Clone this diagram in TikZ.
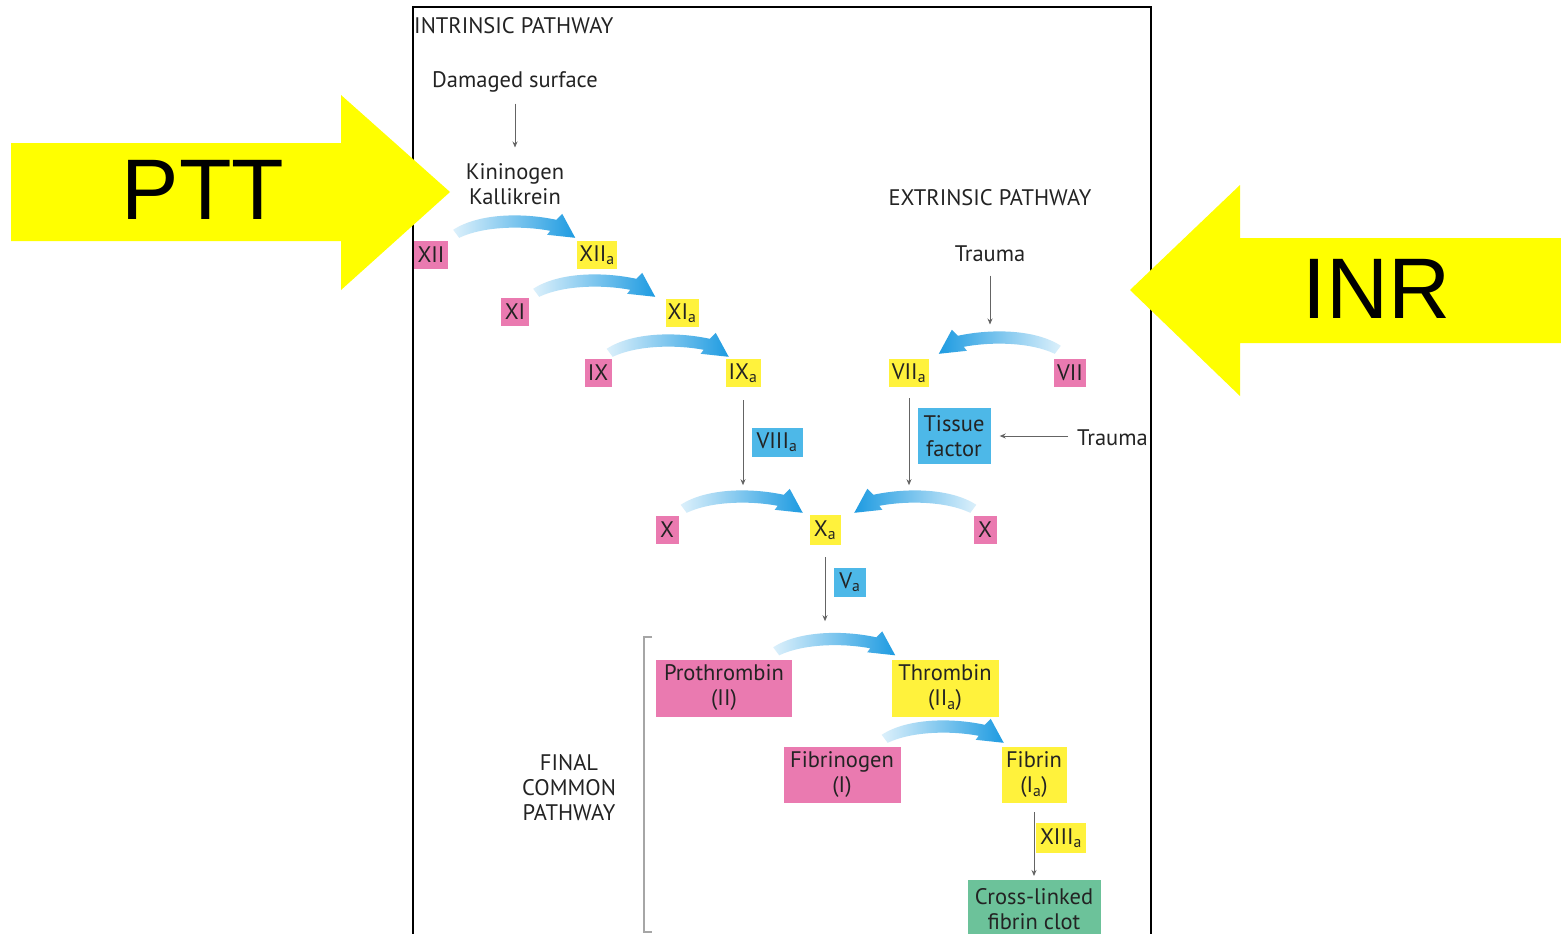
\documentclass[tikz,border=0pt]{standalone}
\usepackage{fontspec}
\setmainfont{PT Sans}
\newfontfamily\arialf{Liberation Sans}
\usetikzlibrary{calc,arrows.meta}
\definecolor{pinkc}{RGB}{234,122,176}
\definecolor{yellowc}{RGB}{255,242,60}
\definecolor{bluec}{RGB}{77,184,232}
\definecolor{greenc}{RGB}{108,194,154}
\definecolor{flowdark}{RGB}{30,155,225}
\definecolor{flowlight}{RGB}{220,240,251}
\definecolor{txt}{RGB}{35,35,35}
\definecolor{bigyellow}{RGB}{255,255,0}
\definecolor{garr}{RGB}{100,100,100}
\tikzset{
  lbl/.style={text=txt, font=\fontsize{22.5}{25}\selectfont, align=center, inner sep=1pt, yshift=-1.5pt},
  box/.style={text=txt, font=\fontsize{22.5}{25}\selectfont, align=center, inner sep=0pt, minimum height=28},
  pinkbox/.style={box, fill=pinkc},
  yellowbox/.style={box, fill=yellowc},
  bluebox/.style={box, fill=bluec},
  greenbox/.style={box, fill=greenc},
  garrow/.style={draw=garr, line width=0.9pt, -{Stealth[length=6pt,width=5pt]}},
  flowR/.pic={\shade[left color=flowlight, middle color=flowdark!65!flowlight, right color=flowdark]
    (0,0) -- (-6,-8) .. controls (20,-25) and (65,-25) .. (97,-18) -- (103,-24) -- (116,0) -- (88,-3) -- (91,-7) .. controls (65,-12) and (25,-12) .. cycle;},
  flowL/.pic={\shade[right color=flowlight, middle color=flowdark!65!flowlight, left color=flowdark]
    (0,0) -- (6,-8) .. controls (-20,-25) and (-65,-25) .. (-97,-18) -- (-103,-24) -- (-116,0) -- (-88,-3) -- (-91,-7) .. controls (-65,-12) and (-25,-12) .. cycle;},
  bigtext/.style={text=black, font=\arialf\fontsize{86}{86}\selectfont, inner sep=0pt}
}
\begin{document}
\begin{tikzpicture}[x=1pt,y=-1pt]
\useasboundingbox (0,0) rectangle (1561,934);
\clip (0,0) rectangle (1561,934);
\fill[white] (0,0) rectangle (1561,934);
% frame
\draw[line width=2pt] (413,950) -- (413,7) -- (1151,7) -- (1151,950);
% texts
\node[lbl, anchor=west] (intr) at (413,24) {INTRINSIC PATHWAY};
\node[lbl] (dmg) at (515,80) {Damaged surface};
\node[lbl] (kin) at (515,183) {Kininogen\\Kallikrein};
\node[lbl] (extr) at (990,196) {EXTRINSIC PATHWAY};
\node[lbl] (tr1) at (990,252) {Trauma};
\node[lbl, anchor=west] (tr2) at (1076,436) {Trauma};
\node[lbl] (fcp) at (569,786) {FINAL\\COMMON\\PATHWAY};
% boxes
\node[pinkbox, minimum width=34] (XII) at (431,255) {XII};
\node[yellowbox, minimum width=40] (XIIa) at (597,255) {XII\textsubscript{a}};
\node[pinkbox, minimum width=28] (XI) at (515,312) {XI};
\node[yellowbox, minimum width=33] (XIa) at (682,313) {XI\textsubscript{a}};
\node[pinkbox, minimum width=27] (IX) at (598,373) {IX};
\node[yellowbox, minimum width=35] (IXa) at (743,373) {IX\textsubscript{a}};
\node[bluebox, minimum width=51, minimum height=29] (VIIIa) at (777,442) {VIII\textsubscript{a}};
\node[yellowbox, minimum width=40] (VIIa) at (909,373) {VII\textsubscript{a}};
\node[pinkbox, minimum width=32] (VII) at (1070,373) {VII};
\node[bluebox, minimum width=73, minimum height=56] (TF) at (954,436) {Tissue\\factor};
\node[pinkbox, minimum width=23] (Xl) at (667,530) {X};
\node[yellowbox, minimum width=31, minimum height=30] (Xa) at (825,530) {X\textsubscript{a}};
\node[pinkbox, minimum width=23] (Xr) at (985,530) {X};
\node[bluebox, minimum width=32, minimum height=29] (Va) at (850,582) {V\textsubscript{a}};
\node[pinkbox, minimum width=136, minimum height=57] (PT) at (724,688) {Prothrombin\\(II)};
\node[yellowbox, minimum width=107, minimum height=57] (TH) at (945,688) {Thrombin\\(II\textsubscript{a})};
\node[pinkbox, minimum width=117, minimum height=56] (FG) at (842,775) {Fibrinogen\\(I)};
\node[yellowbox, minimum width=65, minimum height=56] (FB) at (1034,775) {Fibrin\\(I\textsubscript{a})};
\node[yellowbox, minimum width=50, minimum height=30] (XIIIa) at (1061,838) {XIII\textsubscript{a}};
\node[greenbox, minimum width=133, minimum height=58, anchor=north] (clot) at (1034,880) {Cross-linked\\fibrin clot};
% bracket
\draw[gray!70, line width=1.5pt] (652,637) -- (644,637) -- (644,932) -- (652,932);
% gray arrows
\draw[garrow] ($(dmg)+(0,22)$) -- ($(kin)+(0,-37)$);
\draw[garrow] ($(tr1)+(0,22)$) -- ($(tr1)+(0,71)$);
\coordinate (inL) at ($(IXa.south)+(0,98)$);
\draw[garrow] ($(IXa.south)+(0,13)$) -- (inL);
\coordinate (inR) at ($(VIIa.south)+(0,98)$);
\draw[garrow] ($(VIIa.south)+(0,11)$) -- (inR);
\draw[garrow] ($(tr2.west |- TF.east)+(-8,0)$) -- ($(TF.east)+(9,0)$);
\coordinate (toPT) at ($(Xa.south)+(0,76)$);
\draw[garrow] ($(Xa.south)+(0,12)$) -- (toPT);
\draw[garrow] ($(FB.south)+(0,9)$) -- ($(clot.north)+(0,-4)$);
% blue flow arrows
\pic at ($(XII.north east)+(11,-3)$) {flowR};
\pic at ($(XI.north east)+(10,-1)$) {flowR};
\pic at ($(IX.north east)+(1,-2)$) {flowR};
\pic at ($(VII.north west)+(1,-5)$) {flowL};
\pic at ($(Xl.north east)+(8,-3)$) {flowR};
\pic at ($(Xr.north west)+(-3,-3)$) {flowL};
\pic at ($(PT.north east)+(-13,-4)$) {flowR};
\pic at ($(FG.north east)+(-13,-4)$) {flowR};
% big yellow arrows
\fill[bigyellow] (11,143) -- (341,143) -- (341,95) -- (450,192) -- (341,290) -- (341,241) -- (11,241) -- cycle;
\node[bigtext] (ptt) at (203,190) {PTT};
\fill[bigyellow] (1561,238) -- (1240,238) -- (1240,185) -- (1130,290) -- (1240,396) -- (1240,343) -- (1561,343) -- cycle;
\node[bigtext] (inr) at (1377,289) {INR};
\end{tikzpicture}
\end{document}
